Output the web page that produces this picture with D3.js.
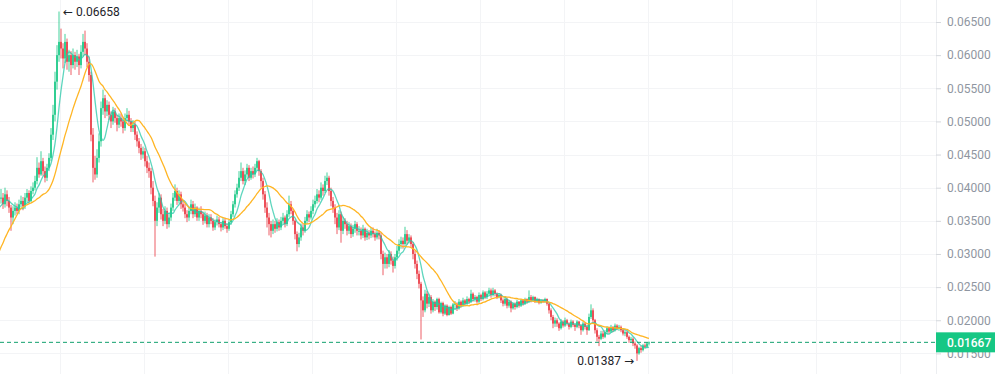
<!DOCTYPE html>
<html><head><meta charset="utf-8">
<script src="https://cdn.jsdelivr.net/npm/d3@7"></script>
<style>html,body{margin:0;padding:0;background:#fff;overflow:hidden}</style>
</head><body><svg id="c" width="995" height="374"></svg>
<script>
// 20 candles before the visible window (they feed the moving averages)
const hiddenCount = 20;
const firstOpen = 0.0240;
const closes = [
.0245,.0250,.0240,.0255,.0248,.0252,.0245,.0258,.0250,.0262,.0300,.0330,.0345,.0360,.0350,.0370,.0365,.0380,.0375,.0385,
.0385,.0375,.0390,.0380,.0370, .0355,.0365, .0370,.0365,.0375,.0380,.0372, .0385,.0392,.0380,.0395,.0400,
.0410,.0430,.0420,.0440, .0425,.0415,.0430,.0445, .0480,.0510,.0560, .0600,.0620,
.0610,.0595,.0620,.0590,.0600,.0585,.0600,.0590,.0598,.0585,.0605,.0620,.0610, .0590,.0570,
.0480,.0430,.0420,.0445,.0470, .0520,.0535,.0515, .0525,.0510,.0500,.0515,.0505,.0495,.0505,
.0500,.0490,.0505,.0510,.0500,.0490,.0495,.0480, .0470,.0460,.0450,.0455,.0440,.0430,.0425,
.0400,.0380,.0350,.0370, .0385,.0360,.0350,.0365,.0345,.0355, .0370,.0385,.0395,.0380,.0390,.0375,.0370,.0360,
.0355,.0365,.0375,.0360,.0370,.0355,.0365, .0360,.0350,.0358,.0345,.0355,.0350,.0340,.0348,
.0352,.0345,.0340,.0350,.0342,.0338,.0348, .0360,.0375,.0390,.0400,.0415,
.0425,.0410,.0420,.0430,.0415,.0425,.0420,.0430,.0440,.0425, .0410,.0390,.0370,.0355,.0345,.0335,
.0345,.0338,.0348,.0340,.0350,.0355,.0345,.0360, .0375,.0365,.0350, .0330,.0315,.0325,
.0340,.0335,.0350,.0360,.0355,.0365, .0375,.0380,.0390,.0385,.0400,.0395,.0410,.0415, .0395,.0380,.0370,
.0355,.0340,.0360,.0335,.0350, .0345,.0335,.0342,.0330,.0338,.0345,.0335,
.0335,.0328,.0338,.0325,.0332,.0328,.0335,.0330,.0325,.0332,.0328, .0300,.0285,
.0295,.0285,.0300,.0290,.0282,.0295, .0305,.0315,.0320,.0315,.0330, .0320,.0325,.0315, .0300,.0285,.0270,.0255,
.0230,.0215, .0240,.0225,.0235,.0215,.0228, .0220,.0232,.0212,.0226,.0210,.0222,.0208,.0220,.0210,.0224,
.0225,.0218,.0228,.0222,.0230,.0225,.0232,.0228,.0240,.0232, .0235,.0228,.0238,.0232,.0242,.0235,.0240,.0245,
.0238,.0245,.0240,.0235,.0238, .0230,.0225,.0232,.0222,.0228,.0218,.0225,.0220, .0228,.0222,.0230,.0225,.0232,.0228,.0235,
.0230,.0235,.0228,.0232,.0226,.0230,.0228,.0232,.0225, .0215,.0205,.0195,.0200,
.0195,.0188,.0198,.0192,.0200,.0195,.0190,.0198,.0193, .0190,.0198,.0192,.0185,.0195,.0190,.0185,
.0205,.0215,.0200, .0185,.0175,.0172, .0180,.0175,.0182,.0188,.0183,.0190,.0185,.0192,.0187,.0190,
.0185,.0180,.0182,.0175,.0170,.0172,.0165, .0162,.0150,.0158, .0155,.0162,.0160,.0165,.01667
];
const highs = [
.0250,.0256,.0252,.0260,.0257,.0258,.0254,.0262,.0259,.0266,.0308,.0338,.0352,.0366,.0362,.0376,.0374,.0388,.0384,.0392,
.0398,.0392,.0400,.0396,.0386, .0374,.0372, .0378,.0376,.0382,.0388,.0386, .0392,.0398,.0396,.0402,.0408,
.0418,.0446,.0438,.0455, .0445,.0432,.0436,.0452, .0490,.0525,.0575, .0615,.06658,
.0640,.0618,.0632,.0625,.0608,.0606,.0610,.0605,.0608,.0602,.0615,.0632,.0637, .0618,.0598,
.0575,.0490,.0448,.0458,.0482, .0530,.0548,.0540, .0532,.0530,.0515,.0522,.0520,.0510,.0512,
.0512,.0506,.0512,.0520,.0516,.0505,.0502,.0500, .0485,.0475,.0466,.0462,.0460,.0448,.0438,
.0430,.0410,.0388,.0378, .0392,.0390,.0368,.0372,.0370,.0362, .0376,.0392,.0405,.0400,.0396,.0394,.0382,.0376,
.0366,.0370,.0382,.0380,.0376,.0372,.0370, .0372,.0364,.0364,.0362,.0360,.0360,.0354,.0352,
.0358,.0356,.0348,.0354,.0354,.0346,.0352, .0365,.0380,.0396,.0406,.0425,
.0438,.0430,.0426,.0436,.0434,.0430,.0432,.0436,.0445,.0442, .0428,.0415,.0395,.0378,.0362,.0350,
.0352,.0350,.0354,.0352,.0356,.0362,.0358,.0366, .0388,.0380,.0368, .0352,.0334,.0332,
.0346,.0345,.0356,.0366,.0364,.0372, .0382,.0388,.0398,.0396,.0408,.0405,.0418,.0423, .0418,.0400,.0386,
.0375,.0362,.0366,.0364,.0356, .0354,.0350,.0348,.0346,.0344,.0350,.0348,
.0342,.0340,.0344,.0340,.0338,.0336,.0340,.0340,.0334,.0338,.0336, .0332,.0305,
.0302,.0300,.0306,.0304,.0296,.0300, .0312,.0322,.0326,.0325,.0341, .0336,.0330,.0328, .0318,.0305,.0290,.0275,
.0258,.0236, .0246,.0244,.0240,.0238,.0232, .0230,.0234,.0234,.0228,.0228,.0224,.0224,.0222,.0222,.0226,
.0229,.0227,.0232,.0230,.0234,.0232,.0236,.0234,.0246,.0242, .0238,.0237,.0242,.0240,.0245,.0244,.0244,.0249,
.0248,.0249,.0247,.0242,.0241, .0240,.0233,.0235,.0234,.0230,.0230,.0227,.0227, .0231,.0229,.0232,.0231,.0234,.0233,.0245,
.0238,.0237,.0236,.0234,.0233,.0232,.0232,.0234,.0233, .0227,.0218,.0208,.0204,
.0203,.0197,.0202,.0200,.0204,.0202,.0197,.0201,.0200, .0195,.0200,.0199,.0194,.0198,.0197,.0193,
.0210,.0224,.0218, .0202,.0188,.0178, .0184,.0184,.0185,.0191,.0190,.0193,.0191,.0195,.0194,.0193,
.0192,.0187,.0185,.0184,.0177,.0175,.0174, .0168,.0164,.0160, .0161,.0164,.0165,.0167,.0168
];
const lows = [
.0238,.0243,.0236,.0238,.0244,.0245,.0241,.0243,.0246,.0248,.0258,.0296,.0326,.0342,.0345,.0348,.0360,.0362,.0369,.0372,
.0376,.0368,.0370,.0372,.0362, .0335,.0345, .0358,.0360,.0360,.0370,.0366, .0368,.0378,.0376,.0378,.0390,
.0396,.0405,.0415,.0418, .0418,.0408,.0410,.0425, .0440,.0472,.0500, .0548,.0590,
.0595,.0580,.0588,.0578,.0575,.0570,.0580,.0578,.0582,.0570,.0580,.0598,.0600, .0582,.0560,
.0470,.0408,.0412,.0415,.0438, .0462,.0510,.0505, .0508,.0502,.0490,.0495,.0498,.0485,.0490,
.0492,.0482,.0486,.0500,.0494,.0484,.0484,.0472, .0462,.0452,.0442,.0444,.0432,.0422,.0415,
.0390,.0372,.0296,.0342, .0362,.0352,.0342,.0345,.0338,.0340, .0350,.0365,.0380,.0374,.0376,.0368,.0364,.0354,
.0348,.0350,.0360,.0354,.0356,.0350,.0350, .0354,.0344,.0346,.0340,.0340,.0345,.0335,.0336,
.0343,.0340,.0334,.0336,.0338,.0332,.0335, .0344,.0356,.0370,.0385,.0395,
.0410,.0405,.0404,.0415,.0410,.0412,.0414,.0416,.0426,.0418, .0400,.0382,.0362,.0340,.0328,.0325,
.0330,.0332,.0334,.0335,.0336,.0345,.0340,.0342, .0356,.0360,.0344, .0322,.0304,.0310,
.0320,.0328,.0332,.0345,.0348,.0352, .0360,.0370,.0376,.0378,.0382,.0388,.0392,.0404, .0388,.0372,.0362,
.0345,.0330,.0336,.0317,.0330, .0338,.0328,.0330,.0324,.0326,.0332,.0328,
.0328,.0322,.0324,.0320,.0321,.0322,.0324,.0325,.0320,.0322,.0322, .0292,.0268,
.0278,.0278,.0280,.0284,.0272,.0278, .0290,.0300,.0308,.0308,.0312, .0314,.0316,.0310, .0292,.0278,.0262,.0248,
.0171,.0205, .0212,.0218,.0220,.0210,.0212, .0214,.0216,.0210,.0210,.0206,.0208,.0206,.0207,.0208,.0209,
.0216,.0214,.0216,.0219,.0220,.0222,.0222,.0225,.0226,.0228, .0228,.0225,.0226,.0229,.0230,.0232,.0232,.0238,
.0234,.0236,.0236,.0232,.0233, .0226,.0221,.0222,.0218,.0219,.0212,.0216,.0216, .0218,.0219,.0220,.0222,.0223,.0225,.0226,
.0227,.0228,.0226,.0226,.0224,.0225,.0226,.0226,.0222, .0210,.0200,.0188,.0190,
.0190,.0184,.0186,.0189,.0190,.0192,.0186,.0188,.0190, .0184,.0188,.0188,.0178,.0183,.0186,.0178,
.0184,.0202,.0196, .0180,.0168,.0161, .0170,.0172,.0173,.0179,.0180,.0181,.0182,.0183,.0185,.0184,
.0182,.0177,.0176,.0172,.0166,.0167,.0161, .0157,.01387,.0148, .0151,.0153,.0157,.0158,.0162
];
const priceTicks = [0.015,0.020,0.025,0.030,0.035,0.040,0.045,0.050,0.055,0.060,0.065];
const lastPrice = 0.01667;
const maPeriods = [7, 20];
const maColors = ["rgba(40,200,168,0.75)", "#ffb524"];
const UP = "#16c784", DOWN = "#ea3943";

const W = 995, H = 374, plotRight = 936;
const svg = d3.select("#c");
const x = d3.scaleLinear().domain([0, 467.5]).range([1, plotRight]); // visible candle index -> px
const y = d3.scaleLinear().domain([0.015, 0.065]).range([353.4, 22]);
const xi = k => x(k - hiddenCount);

// grid
const grid = svg.append("g");
grid.selectAll("line.h").data(priceTicks).join("line")
  .attr("x1", 0).attr("x2", plotRight).attr("y1", d => Math.round(y(d)) + 0.5).attr("y2", d => Math.round(y(d)) + 0.5)
  .attr("stroke", "#f3f4f6").attr("stroke-width", 1);
grid.selectAll("line.v").data(d3.range(29.5, 468, 42)).join("line")
  .attr("x1", d => Math.round(x(d)) + 0.5).attr("x2", d => Math.round(x(d)) + 0.5).attr("y1", 0).attr("y2", H)
  .attr("stroke", "#f3f4f6").attr("stroke-width", 1);

svg.append("clipPath").attr("id", "clip").append("rect").attr("x", 0).attr("y", 0).attr("width", plotRight).attr("height", H);
const plot = svg.append("g").attr("clip-path", "url(#clip)");

const candles = closes.map((c, k) => ({k, o: k === 0 ? firstOpen : closes[k - 1], c, h: highs[k], l: lows[k]}));
const cg = plot.append("g");
cg.selectAll("line").data(candles).join("line")
  .attr("x1", d => xi(d.k)).attr("x2", d => xi(d.k))
  .attr("y1", d => y(d.h)).attr("y2", d => y(d.l))
  .attr("stroke", d => d.c >= d.o ? UP : DOWN).attr("stroke-width", 1).attr("opacity", 0.8);
cg.selectAll("rect").data(candles).join("rect")
  .attr("x", d => xi(d.k) - 0.8).attr("width", 1.6)
  .attr("y", d => y(Math.max(d.o, d.c)))
  .attr("height", d => Math.max(1, Math.abs(y(d.o) - y(d.c))))
  .attr("fill", d => d.c >= d.o ? UP : DOWN);

// moving averages
maPeriods.forEach((p, j) => {
  const pts = [];
  for (let k = p - 1; k < closes.length; k++) pts.push([xi(k), y(d3.mean(closes.slice(k - p + 1, k + 1)))]);
  plot.append("path").attr("d", d3.line().curve(d3.curveMonotoneX)(pts))
    .attr("fill", "none").attr("stroke", maColors[j]).attr("stroke-width", 1.3);
});

// last price dashed line
svg.append("line").attr("x1", 0).attr("x2", plotRight).attr("y1", y(lastPrice)).attr("y2", y(lastPrice))
  .attr("stroke", "#12a06e").attr("stroke-width", 1).attr("stroke-dasharray", "4,3");

// axis
const axis = svg.append("g").attr("transform", `translate(${plotRight},0)`)
  .call(d3.axisRight(y).tickValues(priceTicks).tickFormat(d3.format(".5f")).tickSize(5).tickPadding(6));
axis.select(".domain").attr("stroke", "#eceef1").attr("d", `M0.5,0V${H}`);
axis.selectAll(".tick line").attr("stroke", "#d5d8dd");
axis.selectAll("text").attr("fill", "#8f96a1").style("font-family", "Roboto, 'Noto Sans', sans-serif").style("font-size", "12px");

// last price label
const ly = y(lastPrice);
svg.append("rect").attr("x", plotRight).attr("y", ly - 10).attr("width", W - plotRight).attr("height", 20).attr("fill", UP);
svg.append("text").attr("x", 947).attr("y", ly).attr("dy", "0.35em").attr("fill", "#fff")
  .style("font-family", "Roboto, 'Noto Sans', sans-serif").style("font-size", "12px").style("font-weight", 500)
  .text(d3.format(".5f")(lastPrice));

// max / min annotations
const iMax = d3.maxIndex(highs), iMin = d3.minIndex(lows);
svg.append("text").attr("x", xi(iMax) + 4).attr("y", y(highs[iMax])).attr("dy", "0.35em")
  .attr("fill", "#1e2329").style("font-family", "Roboto, 'DejaVu Sans', sans-serif").style("font-size", "12px")
  .text("← " + d3.format(".5f")(highs[iMax]));
svg.append("text").attr("x", xi(iMin) - 3).attr("y", y(lows[iMin])).attr("dy", "0.35em").attr("text-anchor", "end")
  .attr("fill", "#1e2329").style("font-family", "Roboto, 'DejaVu Sans', sans-serif").style("font-size", "12px")
  .text(d3.format(".5f")(lows[iMin]) + " →");
</script></body></html>
